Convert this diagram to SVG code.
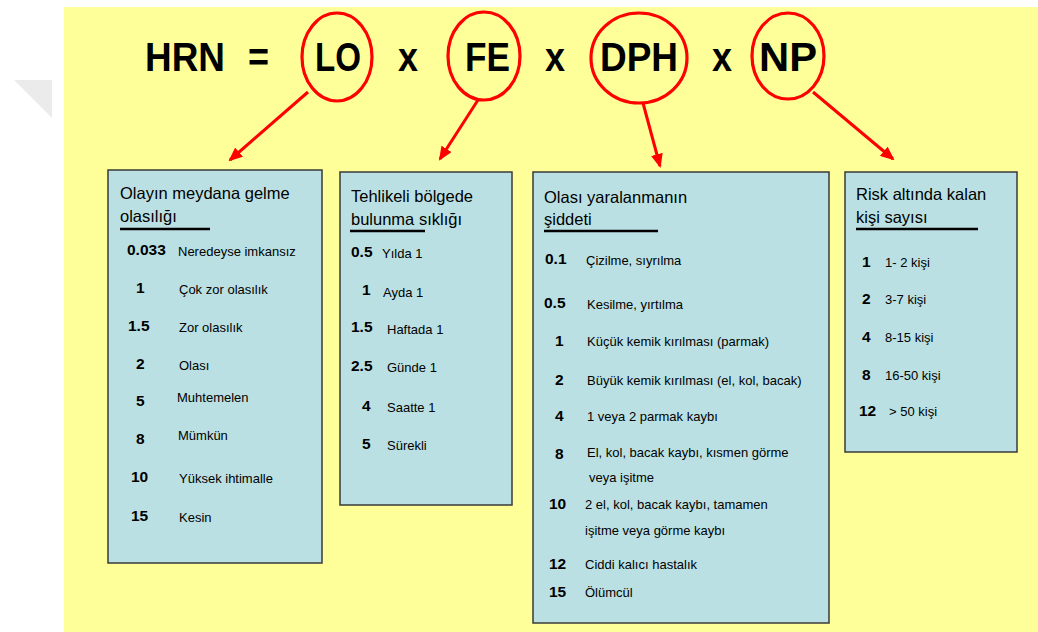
<svg xmlns="http://www.w3.org/2000/svg" width="1038" height="632" viewBox="0 0 1038 632">
  <style>
    .formula { font-family: "Liberation Sans", Arial, sans-serif; font-weight: bold; font-size: 40px; fill: #000; }
    .ring { fill: none; stroke: #ff0000; stroke-width: 3.2; }
    .box { fill: #bbe0e3; stroke: #3a3a3a; stroke-width: 1.5; }
    .title { font-family: "Liberation Sans", Arial, sans-serif; font-size: 16.5px; fill: #000; }
    .rule { stroke: #000; stroke-width: 2.5; }
    .num { font-family: "Liberation Sans", Arial, sans-serif; font-weight: bold; font-size: 15.5px; fill: #000; }
    .lbl { font-family: "Liberation Sans", Arial, sans-serif; font-size: 13px; fill: #000; }
    .link { stroke: #ff0000; stroke-width: 3; fill: none; marker-end: url(#head); }
  </style>
  <defs>
    <marker id="head" markerUnits="userSpaceOnUse" markerWidth="14" markerHeight="12" refX="12" refY="6" orient="auto">
      <path d="M0,0 L14,6 L0,12 Z" fill="#ff0000"/>
    </marker>
  </defs>

  <!-- page -->
  <rect x="0" y="0" width="1038" height="632" fill="#ffffff"/>
  <polygon points="14,80 52,80 52,118" fill="#ebebeb"/>
  <rect x="64" y="7" width="974" height="625" fill="#ffff99"/>

  <!-- formula (condensed bold lettering) -->
  <g id="formula">
    <text class="formula" x="145" y="71" textLength="80" lengthAdjust="spacingAndGlyphs">HRN</text>
    <text class="formula" x="248" y="71" textLength="21" lengthAdjust="spacingAndGlyphs">=</text>
    <text class="formula" x="315" y="71" textLength="46" lengthAdjust="spacingAndGlyphs">LO</text>
    <text class="formula" x="398" y="71" textLength="20" lengthAdjust="spacingAndGlyphs">x</text>
    <text class="formula" x="465" y="71" textLength="45" lengthAdjust="spacingAndGlyphs">FE</text>
    <text class="formula" x="545" y="71" textLength="20" lengthAdjust="spacingAndGlyphs">x</text>
    <text class="formula" x="600" y="71" textLength="78" lengthAdjust="spacingAndGlyphs">DPH</text>
    <text class="formula" x="712" y="71" textLength="20" lengthAdjust="spacingAndGlyphs">x</text>
    <text class="formula" x="759" y="71" textLength="58" lengthAdjust="spacingAndGlyphs">NP</text>
    <ellipse class="ring" cx="337" cy="57" rx="35" ry="44"/>
    <ellipse class="ring" cx="484" cy="56" rx="36" ry="44"/>
    <ellipse class="ring" cx="639" cy="58" rx="48" ry="45"/>
    <ellipse class="ring" cx="788" cy="56" rx="36" ry="43"/>
  </g>

  <!-- connectors -->
  <g id="connectors">
    <line class="link" x1="308" y1="92" x2="230" y2="160"/>
    <line class="link" x1="478" y1="100" x2="440" y2="159"/>
    <line class="link" x1="643" y1="103" x2="660" y2="166"/>
    <line class="link" x1="813" y1="92" x2="893" y2="159"/>
  </g>

  <!-- LO -->
  <g id="lo-box">
    <rect class="box" x="108" y="170" width="214" height="393"/>
    <text class="title" x="120" y="199">Olayın meydana gelme</text>
    <text class="title" x="120" y="222">olasılığı</text>
    <line class="rule" x1="120" y1="229" x2="210" y2="229"/>
    <text class="num" x="127" y="255">0.033</text><text class="lbl" x="178" y="256">Neredeyse imkansız</text>
    <text class="num" x="136" y="293">1</text><text class="lbl" x="179" y="294">Çok zor olasılık</text>
    <text class="num" x="128" y="331">1.5</text><text class="lbl" x="179" y="332">Zor olasılık</text>
    <text class="num" x="136" y="369">2</text><text class="lbl" x="179" y="370">Olası</text>
    <text class="num" x="136" y="406">5</text><text class="lbl" x="177" y="402">Muhtemelen</text>
    <text class="num" x="136" y="444">8</text><text class="lbl" x="178" y="440">Mümkün</text>
    <text class="num" x="131" y="482">10</text><text class="lbl" x="179" y="483">Yüksek ihtimalle</text>
    <text class="num" x="131" y="521">15</text><text class="lbl" x="179" y="522">Kesin</text>
  </g>

  <!-- FE -->
  <g id="fe-box">
    <rect class="box" x="340" y="172" width="172" height="333"/>
    <text class="title" x="351" y="202">Tehlikeli bölgede</text>
    <text class="title" x="351" y="225">bulunma sıklığı</text>
    <line class="rule" x1="350" y1="231" x2="425" y2="231"/>
    <text class="num" x="351" y="257">0.5</text><text class="lbl" x="382" y="258">Yılda 1</text>
    <text class="num" x="362" y="295">1</text><text class="lbl" x="383" y="297">Ayda 1</text>
    <text class="num" x="351" y="332">1.5</text><text class="lbl" x="387" y="334">Haftada 1</text>
    <text class="num" x="351" y="371">2.5</text><text class="lbl" x="387" y="372">Günde 1</text>
    <text class="num" x="362" y="411">4</text><text class="lbl" x="387" y="412">Saatte 1</text>
    <text class="num" x="362" y="449">5</text><text class="lbl" x="387" y="450">Sürekli</text>
  </g>

  <!-- DPH -->
  <g id="dph-box">
    <rect class="box" x="533" y="172" width="296" height="451"/>
    <text class="title" x="544" y="203">Olası yaralanmanın</text>
    <text class="title" x="544" y="225">şiddeti</text>
    <line class="rule" x1="544" y1="231" x2="658" y2="231"/>
    <text class="num" x="545" y="264">0.1</text><text class="lbl" x="586" y="265">Çizilme, sıyrılma</text>
    <text class="num" x="544" y="308">0.5</text><text class="lbl" x="587" y="309">Kesilme, yırtılma</text>
    <text class="num" x="555" y="346">1</text><text class="lbl" x="587" y="346">Küçük kemik kırılması (parmak)</text>
    <text class="num" x="555" y="385">2</text><text class="lbl" x="587" y="385">Büyük kemik kırılması (el, kol, bacak)</text>
    <text class="num" x="555" y="421">4</text><text class="lbl" x="587" y="421">1 veya 2 parmak kaybı</text>
    <text class="num" x="555" y="459">8</text><text class="lbl" x="587" y="457">El, kol, bacak kaybı, kısmen görme</text>
    <text class="lbl" x="589" y="482">veya işitme</text>
    <text class="num" x="549" y="509">10</text><text class="lbl" x="585" y="509">2 el, kol, bacak kaybı, tamamen</text>
    <text class="lbl" x="585" y="535">işitme veya görme kaybı</text>
    <text class="num" x="549" y="569">12</text><text class="lbl" x="585" y="569">Ciddi kalıcı hastalık</text>
    <text class="num" x="549" y="597">15</text><text class="lbl" x="585" y="597">Ölümcül</text>
  </g>

  <!-- NP -->
  <g id="np-box">
    <rect class="box" x="845" y="172" width="172" height="280"/>
    <text class="title" x="856" y="200">Risk altında kalan</text>
    <text class="title" x="856" y="223">kişi sayısı</text>
    <line class="rule" x1="856" y1="229" x2="978" y2="229"/>
    <text class="num" x="862" y="267">1</text><text class="lbl" x="885" y="267">1- 2 kişi</text>
    <text class="num" x="862" y="304">2</text><text class="lbl" x="885" y="304">3-7 kişi</text>
    <text class="num" x="862" y="342">4</text><text class="lbl" x="885" y="342">8-15 kişi</text>
    <text class="num" x="862" y="380">8</text><text class="lbl" x="885" y="380">16-50 kişi</text>
    <text class="num" x="859" y="416">12</text><text class="lbl" x="889" y="416">&gt; 50 kişi</text>
  </g>
</svg>
